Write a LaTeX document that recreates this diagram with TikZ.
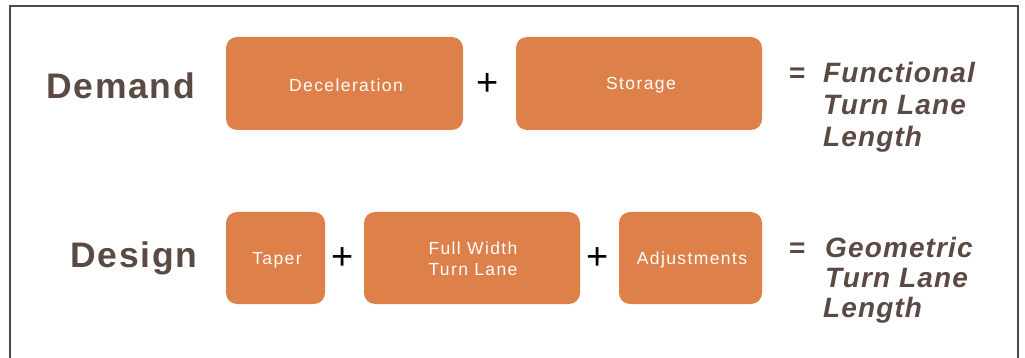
\documentclass[tikz,border=0pt]{standalone}
\usepackage{fontspec}
\setmainfont{Liberation Sans}
\newfontfamily\boxfont[LetterSpace=8]{Liberation Sans}
\newfontfamily\headfont[LetterSpace=5]{Liberation Sans}
\newfontfamily\resfont[LetterSpace=4]{Liberation Sans}
\definecolor{boxorange}{HTML}{DE8049}
\definecolor{txtbrown}{HTML}{5B4A44}
\definecolor{framegray}{HTML}{4A4A4A}
\tikzset{
  part/.style={fill=boxorange, draw=none, rounded corners=11pt},
  boxtxt/.style={text=white, font=\boxfont\fontsize{17.5}{21}\selectfont, align=center, inner sep=0pt},
  head/.style={text=txtbrown, font=\headfont\bfseries\fontsize{35.5}{40}\selectfont, inner sep=0pt, anchor=base west},
  res/.style={text=txtbrown, font=\resfont\bfseries\itshape\fontsize{28}{32}\selectfont, inner sep=0pt, anchor=base west},
  eq/.style={text=txtbrown, font=\bfseries\fontsize{28}{32}\selectfont, inner sep=0pt, anchor=base west},
  op/.style={text=black, font=\fontsize{38}{40}\selectfont, inner sep=0pt}
}
\begin{document}
\begin{tikzpicture}[x=1pt,y=-1pt]
\useasboundingbox (0,0) rectangle (1025,358);
\fill[white] (0,0) rectangle (1025,358);
% frame (open at the bottom)
\draw[framegray, line width=1.3pt] (10,362) -- (10,6) -- (1018,6) -- (1018,362);

% row 1
\node[head] (demand) at (46,99) {Demand};
\fill[part] (226,37) rectangle (463,130);
\node[boxtxt] (decel) at (346,85) {Deceleration};
\node[op] (p1) at (488,85) {+};
\fill[part] (516,37) rectangle (762,130);
\node[boxtxt] (stor) at (641,85) {Storage};
\node[eq] (eq1) at (789,83) {=};
\node[res] (f1) at (823,83) {Functional};
\node[res] (f2) at (823,115) {Turn Lane};
\node[res] (f3) at (823,147) {Length};

% row 2
\node[head] (design) at (70,267) {Design};
\fill[part] (226,212) rectangle (325,304);
\node[boxtxt] (taper) at (277,260) {Taper};
\node[op] (p2) at (343,259) {+};
\fill[part] (364,212) rectangle (580,304);
\node[boxtxt] (full) at (473,259) {Full Width\\Turn Lane};
\node[op] (p3) at (598,259) {+};
\fill[part] (619,212) rectangle (762,304);
\node[boxtxt] (adj) at (692,260) {Adjustments};
\node[eq] (eq2) at (789,257) {=};
\node[res] (g1) at (825,257) {Geometric};
\node[res] (g2) at (825,287) {Turn Lane};
\node[res] (g3) at (823,317) {Length};
\end{tikzpicture}
\end{document}
